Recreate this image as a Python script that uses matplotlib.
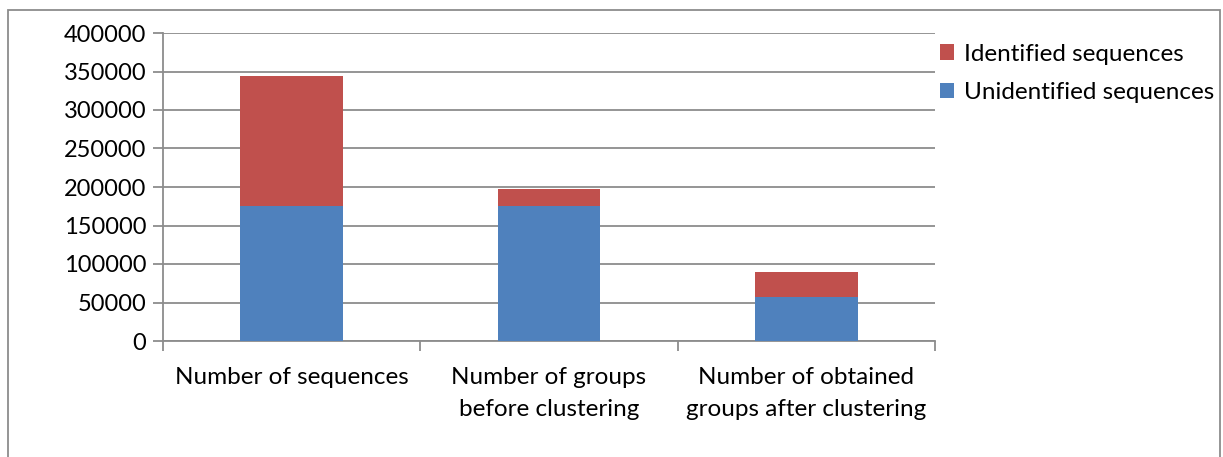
import numpy as np
import matplotlib
matplotlib.use("Agg")
import matplotlib.pyplot as plt
from matplotlib.patches import Rectangle

categories = ["Number of sequences", "Number of groups\nbefore clustering",
              "Number of obtained\ngroups after clustering"]
unidentified = [175000, 175000, 57500]
identified = [169000, 23000, 32000]
yticks = [0, 50000, 100000, 150000, 200000, 250000, 300000, 350000, 400000]

plt.rcParams["font.family"] = ["Lato", "DejaVu Sans"]
RED = "#c0504d"
BLUE = "#4f81bd"
GRID = "#8c8c8c"
FS = 17.5

fig = plt.figure(figsize=(12.23, 4.57), dpi=100)
ax = fig.add_axes([163/1223, 1 - 341/457, (935-163)/1223, (341-33)/457])

x = np.arange(len(categories))
ax.bar(x, unidentified, width=0.4, color=BLUE, label="Unidentified sequences", zorder=3)
ax.bar(x, identified, width=0.4, bottom=unidentified, color=RED,
       label="Identified sequences", zorder=3)

ax.set_xlim(-0.5, 2.5)
ax.set_ylim(0, 400000)
ax.set_yticks(yticks)
ax.set_yticklabels([str(v) for v in yticks], fontsize=FS - 0.5)
ax.yaxis.grid(True, color=GRID, lw=1.3, zorder=0)
ax.set_xticks([-0.5, 0.5, 1.5, 2.5])
ax.set_xticklabels([])
ax.set_xticks(x, minor=True)
ax.set_xticklabels(categories, minor=True, fontsize=FS, linespacing=1.6)
ax.tick_params(axis="x", which="minor", length=0, pad=19)
ax.tick_params(axis="x", which="major", length=7, color=GRID, width=1.3)
ax.tick_params(axis="y", length=7, color=GRID, width=1.3, pad=5)
for s in ["top", "right"]:
    ax.spines[s].set_visible(False)
for s in ["left", "bottom"]:
    ax.spines[s].set_color(GRID)
    ax.spines[s].set_linewidth(1.3)

h, l = ax.get_legend_handles_labels()
fig.legend(h[::-1], l[::-1], loc="upper left", bbox_to_anchor=(930/1223, 1 - 34/457),
           frameon=False, fontsize=FS, handlelength=0.6, handleheight=0.6,
           handletextpad=0.4, labelspacing=0.72, borderaxespad=0)

fig.patches.append(Rectangle((8/1223, -0.1), 1212/1223, 1.1 - 10/457, transform=fig.transFigure,
                             fill=False, edgecolor="#8c8c8c", lw=1.3))

fig.savefig("out.png", dpi=100)
